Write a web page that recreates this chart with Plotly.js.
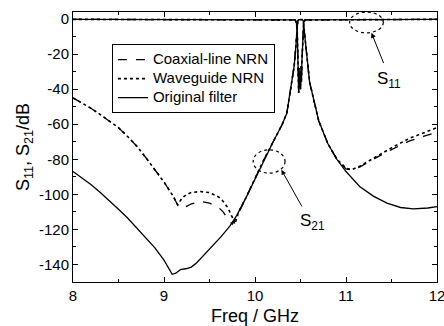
<!DOCTYPE html>
<html>
<head>
<meta charset="utf-8">
<script src="https://cdn.plot.ly/plotly-3.0.1.min.js"></script>
<style>html,body{margin:0;padding:0;background:#fff;}#chart{width:444px;height:326px;}</style>
</head>
<body>
<div id="chart"></div>
<script>
// ---- Data ----
const seriesNames = ["Coaxial-line NRN", "Waveguide NRN", "Original filter"];

// S21 – coaxial-line NRN (dashed)
const freqCoax = [8.0,8.1,8.2,8.3,8.4,8.5,8.6,8.7,8.8,8.9,9.0,9.1,9.15,9.2,9.3,9.4,9.5,9.6,9.65,9.7,9.75,9.8,9.9,10.0,10.1,10.2,10.3,10.35,10.4,10.43,10.45,10.46,10.47,10.48,10.5,10.52,10.53,10.54,10.555,10.575,10.6,10.65,10.7,10.8,10.9,11.0,11.06,11.15,11.3,11.5,11.7,11.85,12.0];
const s21Coax = [-45,-48,-51,-54.5,-58,-62,-67,-72.5,-79,-86,-93,-101,-106,-108,-105.5,-104,-105,-107.5,-110,-114,-117,-113,-102,-91,-80,-70,-60,-53.6,-37,-27,-15,-6,-1,-0.3,-0.2,-0.3,-1,-6,-15,-27,-36,-47,-58,-71,-80,-85.5,-86,-84.5,-80,-74.5,-69.5,-67,-64.5];

// S21 – waveguide NRN (dotted)
const freqWg = [8.0,8.1,8.2,8.3,8.4,8.5,8.6,8.7,8.8,8.9,9.0,9.1,9.15,9.2,9.25,9.3,9.4,9.5,9.6,9.65,9.7,9.75,9.78,9.82,9.9,10.0,10.1,10.2,10.3,10.35,10.4,10.43,10.45,10.46,10.47,10.48,10.5,10.52,10.53,10.54,10.555,10.575,10.6,10.65,10.7,10.8,10.9,11.0,11.06,11.15,11.3,11.5,11.7,11.85,12.0];
const s21Wg = [-45,-48,-51,-54.5,-58,-62,-67,-72.5,-79,-86,-93,-101,-106,-102,-100,-99,-98.4,-99,-101.5,-104,-107.5,-113,-117,-110,-102,-91,-80,-70,-60,-53.6,-37,-27,-15,-6,-1,-0.3,-0.2,-0.3,-1,-6,-15,-27,-36,-47,-58,-71,-80,-85,-86,-84,-79.5,-73.5,-68,-65,-62];

// S21 – original filter (solid)
const freqOrig = [8.0,8.1,8.2,8.3,8.4,8.5,8.6,8.7,8.8,8.9,9.0,9.05,9.09,9.13,9.18,9.25,9.3,9.36,9.45,9.54,9.63,9.725,9.8,9.9,10.0,10.1,10.2,10.3,10.35,10.4,10.43,10.45,10.46,10.47,10.48,10.5,10.52,10.53,10.54,10.555,10.575,10.6,10.65,10.7,10.8,10.9,11.0,11.15,11.3,11.45,11.6,11.74,11.9,12.0];
const s21Orig = [-87,-90.5,-94.5,-99,-103.5,-108.5,-113.5,-119,-124.5,-130.5,-137.5,-142,-145.6,-145,-143,-142.3,-141.5,-139,-134,-129,-124,-118,-112,-102,-91,-80,-70,-60,-53.6,-37,-27,-15,-6,-1,-0.3,-0.2,-0.3,-1,-6,-15,-27,-36,-47,-58,-71,-80,-87,-95.5,-101,-105,-107.5,-108.3,-107.8,-107];

// S11 – common to all three (dip inside the pass band)
const freqS11 = [8.0,10.44,10.455,10.465,10.47,10.475,10.48,10.485,10.49,10.495,10.5,10.505,10.51,10.515,10.52,10.525,10.535,10.55,12.0];
const s11 = [-0.2,-0.5,-2,-8,-20,-30,-42,-28,-38,-30,-40,-27,-36,-25,-18,-8,-2,-0.5,-0.2];

const xTicks = [8, 9, 10, 11, 12];
const yTicks = [0, -20, -40, -60, -80, -100, -120, -140];

// ---- Styles ----
const dashes = ["dash", "dot", "solid"];
const widths = [1.3, 1.6, 1.3];
const F = "Arial, 'Liberation Sans', sans-serif";

const s21x = [freqCoax, freqWg, freqOrig];
const s21y = [s21Coax, s21Wg, s21Orig];

const traces = [];
for (let i = 0; i < 3; i++) {
  traces.push({
    x: s21x[i], y: s21y[i], type: "scatter", mode: "lines",
    name: '<span style="font-size:15px">' + seriesNames[i] + '</span>',
    line: {color: "#000", width: widths[i], dash: dashes[i]}
  });
}
for (let i = 0; i < 3; i++) {
  traces.push({
    x: freqS11, y: s11, type: "scatter", mode: "lines", name: seriesNames[i] + " S11",
    showlegend: false, line: {color: "#000", width: widths[i], dash: dashes[i]}
  });
}

const layout = {
  width: 444, height: 326,
  margin: {l: 73, r: 7, t: 12, b: 44},
  paper_bgcolor: "#fff", plot_bgcolor: "#fff",
  font: {family: F, color: "#000", size: 15},
  showlegend: true,
  legend: {
    x: 0.107, y: 0.881, xanchor: "left", yanchor: "top",
    bgcolor: "#fff", bordercolor: "#000", borderwidth: 1,
    font: {family: F, size: 10, color: "#000"},
    itemwidth: 30, tracegroupgap: 0
  },
  xaxis: {
    range: [8, 12], tickvals: xTicks, ticktext: xTicks.map(String),
    ticklabeloverflow: "allow",
    ticks: "inside", ticklen: 5, tickwidth: 1, tickcolor: "#000",
    showline: true, linecolor: "#000", linewidth: 1, mirror: "allticks",
    showgrid: false, zeroline: false,
    tickfont: {family: F, size: 15, color: "#000"},
    minor: {dtick: 0.5, ticks: "inside", ticklen: 3, tickcolor: "#000", showgrid: false},
    title: {text: "Freq / GHz", font: {family: F, size: 18, color: "#000"}, standoff: 8}
  },
  yaxis: {
    range: [-150, 4], tickvals: yTicks, ticktext: yTicks.map(String),
    ticks: "inside", ticklen: 5, tickwidth: 1, tickcolor: "#000",
    showline: true, linecolor: "#000", linewidth: 1, mirror: "allticks",
    showgrid: false, zeroline: false,
    tickfont: {family: F, size: 15, color: "#000"},
    minor: {dtick: 10, ticks: "inside", ticklen: 3, tickcolor: "#000", showgrid: false},
    title: {text: "S<sub>11</sub>, S<sub>21</sub>/dB", font: {family: F, size: 18, color: "#000"}, standoff: 4}
  },
  shapes: [
    {type: "circle", xref: "x", yref: "y", x0: 11.04, x1: 11.41, y0: -7.9, y1: 4,
     line: {color: "#000", width: 1.2, dash: "dot"}},
    {type: "circle", xref: "x", yref: "y", x0: 9.98, x1: 10.33, y0: -87.9, y1: -74.6,
     line: {color: "#000", width: 1.2, dash: "dot"}}
  ],
  annotations: [
    {x: 11.28, y: -7.9, ax: 11.42, ay: -26, axref: "x", ayref: "y", xref: "x", yref: "y",
     text: "", showarrow: true, arrowhead: 2, arrowsize: 1, arrowwidth: 1, arrowcolor: "#000"},
    {x: 11.47, y: -34.5, xref: "x", yref: "y", text: "S<sub>11</sub>", showarrow: false,
     font: {family: F, size: 17, color: "#000"}},
    {x: 10.29, y: -86, ax: 10.524, ay: -107.7, axref: "x", ayref: "y", xref: "x", yref: "y",
     text: "", showarrow: true, arrowhead: 2, arrowsize: 1, arrowwidth: 1, arrowcolor: "#000"},
    {x: 10.63, y: -116, xref: "x", yref: "y", text: "S<sub>21</sub>", showarrow: false,
     font: {family: F, size: 17, color: "#000"}}
  ]
};

Plotly.newPlot("chart", traces, layout, {displayModeBar: false, staticPlot: true});
</script>
</body>
</html>
